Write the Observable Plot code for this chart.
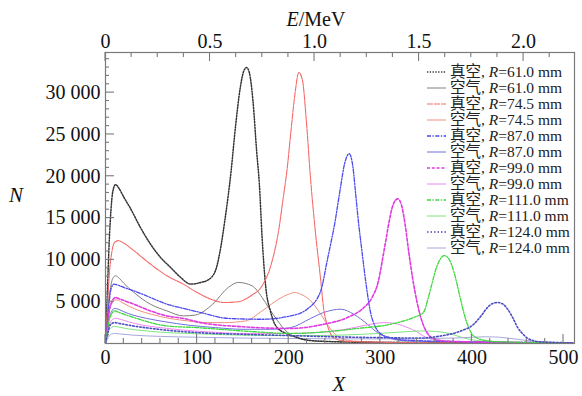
<!DOCTYPE html>
<html><head><meta charset="utf-8">
<script src="https://cdn.jsdelivr.net/npm/d3@7"></script>
<script src="https://cdn.jsdelivr.net/npm/@observablehq/plot@0.6"></script>
<style>
html,body{margin:0;padding:0;background:#fff;}
</style></head><body><div id="chart"></div>
<script>
// ---- data ----
const radii = ["61.0", "74.5", "87.0", "99.0", "111.0", "124.0"];
const media = ["真空", "空气"]; // vacuum, air

const xV61 = [0, 2, 4, 6, 8, 11, 15, 20, 27, 38, 49, 60, 71, 82, 93, 104, 112, 120, 125, 130, 137, 142, 147, 151, 154, 157, 161, 165, 168, 171, 175, 180, 186, 197, 207, 220, 240, 280, 350, 450, 510];
const nV61 = [500, 6000, 12000, 16000, 18200, 19000, 18500, 17500, 16200, 13900, 11900, 10300, 9100, 7900, 7100, 7300, 7600, 8700, 11000, 14500, 20500, 26000, 30500, 32600, 33000, 32400, 29000, 23000, 19000, 12600, 6700, 3900, 2100, 1200, 800, 400, 250, 150, 100, 80, 50];

const xA61 = [0, 2, 4, 6, 8, 11, 15, 20, 31, 49, 67, 85, 98, 117, 134, 145, 160, 171, 178, 188, 197, 207, 220, 240, 300, 400, 510];
const nA61 = [300, 3000, 5500, 7000, 7800, 8100, 7800, 7200, 6100, 4700, 3900, 3300, 3400, 4700, 6700, 7300, 6900, 5500, 4300, 2700, 1500, 800, 400, 250, 150, 100, 50];

const xV74 = [0, 2, 4, 7, 10, 14, 20, 31, 49, 67, 85, 100, 115, 130, 145, 160, 171, 182, 189, 194, 198, 203, 207, 211, 215, 219, 224, 229, 235, 238, 243, 249, 260, 280, 320, 400, 510];
const nV74 = [300, 4000, 8000, 11000, 12100, 12300, 12000, 11100, 9500, 8100, 7100, 6100, 5300, 4900, 5000, 5800, 6900, 9900, 13500, 17400, 20600, 26000, 30000, 32400, 31500, 27000, 19500, 13500, 7500, 4300, 1900, 700, 300, 200, 120, 80, 50];

const xA74 = [0, 2, 4, 7, 10, 13, 18, 25, 35, 50, 70, 90, 110, 130, 153, 171, 189, 200, 207, 213, 224, 235, 242, 249, 258, 270, 300, 400, 510];
const nA74 = [200, 2000, 3800, 4800, 5200, 5200, 4900, 4500, 4000, 3500, 3000, 2700, 2500, 2500, 2700, 3900, 5300, 5900, 6100, 5900, 5100, 3500, 2300, 1300, 600, 300, 150, 80, 50];

const xV87 = [0, 2, 4, 6, 9, 13, 20, 31, 49, 67, 85, 104, 134, 171, 202, 220, 235, 242, 246, 250, 256, 261, 266, 270, 273, 276, 280, 284, 289, 295, 300, 311, 330, 400, 510];
const nV87 = [200, 2500, 5000, 6500, 7100, 7000, 6700, 6300, 5500, 4700, 4200, 3700, 3000, 2900, 3300, 4100, 6300, 9900, 12000, 14200, 18300, 21500, 22700, 21200, 18000, 14700, 11000, 7500, 3900, 1900, 1200, 700, 400, 200, 100];

const xA87 = [0, 2, 4, 7, 10, 14, 20, 30, 45, 65, 90, 120, 150, 180, 202, 224, 238, 257, 271, 286, 297, 308, 330, 400, 510];
const nA87 = [150, 1600, 3000, 3900, 4200, 4100, 3800, 3400, 3000, 2600, 2200, 1900, 1700, 1700, 1900, 3000, 3700, 4100, 3500, 2300, 1300, 700, 300, 150, 50];

const xV99 = [0, 2, 4, 7, 11, 16, 31, 49, 67, 85, 104, 150, 202, 238, 264, 282, 291, 298, 302, 306, 310, 314, 319, 323, 327, 331, 335, 340, 346, 351, 356, 370, 420, 510];
const nV99 = [150, 2000, 3800, 5000, 5500, 5300, 4700, 3900, 3300, 3000, 2500, 2000, 1800, 2300, 3100, 4300, 5500, 7500, 9800, 12300, 14800, 16600, 17300, 16600, 14300, 11000, 8000, 5000, 2500, 1300, 700, 300, 150, 80];

const xA99 = [0, 2, 4, 7, 11, 16, 25, 40, 60, 85, 110, 150, 200, 230, 257, 280, 295, 305, 318, 330, 340, 347, 360, 380, 450, 510];
const nA99 = [100, 1200, 2200, 2800, 3000, 2900, 2600, 2200, 1900, 1600, 1400, 1200, 1200, 1300, 1600, 2100, 2400, 2500, 2350, 1900, 1400, 900, 400, 200, 100, 50];

const xV111 = [0, 2, 4, 7, 10, 15, 31, 49, 67, 100, 150, 202, 240, 275, 311, 336, 347, 352, 356, 362, 370, 375, 380, 384, 388, 395, 402, 413, 430, 510];
const nV111 = [100, 1500, 2800, 3600, 3900, 3700, 3100, 2500, 2100, 1900, 1500, 1200, 1400, 1800, 2300, 3100, 3700, 5300, 7000, 9300, 10500, 10100, 8700, 7000, 5100, 2300, 900, 400, 200, 80];

const xA111 = [0, 2, 4, 7, 10, 15, 25, 40, 60, 90, 130, 180, 230, 280, 320, 345, 360, 375, 390, 410, 450, 510];
const nA111 = [80, 900, 1600, 1950, 2050, 1950, 1750, 1550, 1350, 1200, 1050, 950, 950, 1100, 1350, 1500, 1450, 1200, 700, 300, 120, 50];

const xV124 = [0, 2, 4, 7, 10, 15, 30, 50, 75, 100, 150, 200, 250, 300, 344, 366, 388, 402, 410, 417, 423, 428, 434, 439, 445, 450, 456, 461, 475, 510];
const nV124 = [80, 1000, 1900, 2400, 2500, 2400, 2100, 1800, 1500, 1300, 1100, 950, 800, 700, 650, 900, 1500, 2300, 3300, 4300, 4800, 4900, 4700, 4100, 3000, 1900, 1100, 600, 200, 80];

const xA124 = [0, 2, 4, 7, 10, 15, 30, 60, 100, 150, 200, 300, 380, 400, 415, 430, 450, 470, 510];
const nA124 = [50, 500, 900, 1150, 1200, 1150, 1000, 850, 750, 650, 600, 550, 650, 750, 800, 750, 500, 250, 80];

// axis ticks
const xMajor = [0, 100, 200, 300, 400, 500];
const xMinor = [20, 40, 60, 80, 120, 140, 160, 180, 220, 240, 260, 280, 320, 340, 360, 380, 420, 440, 460, 480];
const yMajor = [5000, 10000, 15000, 20000, 25000, 30000];
const yLabels = ["5 000", "10 000", "15 000", "20 000", "25 000", "30 000"];
const yMinor = [1000, 2000, 3000, 4000, 6000, 7000, 8000, 9000, 11000, 12000, 13000, 14000, 16000, 17000, 18000, 19000, 21000, 22000, 23000, 24000, 26000, 27000, 28000, 29000, 31000, 32000, 33000, 34000];
const eMajor = [0, 0.5, 1.0, 1.5, 2.0];
const eLabels = ["0", "0.5", "1.0", "1.5", "2.0"];
const eMinor = [0.125, 0.25, 0.375, 0.625, 0.75, 0.875, 1.125, 1.25, 1.375, 1.625, 1.75, 1.875, 2.125];
const channelsPerMeV = 228.2; // energy calibration of top axis

// ---- series table ----
const seriesList = [
  {medium: 0, r: 0, xs: xV61, ns: nV61},
  {medium: 1, r: 0, xs: xA61, ns: nA61},
  {medium: 0, r: 1, xs: xV74, ns: nV74},
  {medium: 1, r: 1, xs: xA74, ns: nA74},
  {medium: 0, r: 2, xs: xV87, ns: nV87},
  {medium: 1, r: 2, xs: xA87, ns: nA87},
  {medium: 0, r: 3, xs: xV99, ns: nV99},
  {medium: 1, r: 3, xs: xA99, ns: nA99},
  {medium: 0, r: 4, xs: xV111, ns: nV111},
  {medium: 1, r: 4, xs: xA111, ns: nA111},
  {medium: 0, r: 5, xs: xV124, ns: nV124},
  {medium: 1, r: 5, xs: xA124, ns: nA124}
];
const styles = [
  {stroke: "#333333", dash: "1.3,1.5", width: 1.5},
  {stroke: "#808080", dash: null, width: 1},
  {stroke: "#f46a6a", dash: "6,1", width: 1.1},
  {stroke: "#f09080", dash: null, width: 1},
  {stroke: "#4a4af0", dash: "4,1.5,1.3,1.5", width: 1.3},
  {stroke: "#7070dc", dash: null, width: 1},
  {stroke: "#e03ae0", dash: "3,1.8", width: 1.6},
  {stroke: "#f286f2", dash: null, width: 1},
  {stroke: "#3cd83c", dash: "4,1.5,1.3,1.5", width: 1.3},
  {stroke: "#80e480", dash: null, width: 1},
  {stroke: "#4c4cc4", dash: "1.5,2", width: 1.6},
  {stroke: "#a8a8dc", dash: null, width: 1}
];

const lineMarks = seriesList.map((s, i) => {
  const rows = s.xs.map((x, j) => ({X: x, N: s.ns[j]}));
  const st = styles[i];
  return Plot.line(rows, {x: "X", y: "N", stroke: st.stroke, strokeWidth: st.width,
    strokeDasharray: st.dash ?? undefined, curve: "monotone-x"});
});
// air lines first, vacuum on top
const order = [1, 3, 5, 7, 9, 11, 0, 2, 4, 6, 8, 10];

const W = 582, H = 396;
const mL = 105, mR = 8, mT = 52, mB = 53;
const FONT = "Liberation Serif, Times New Roman, Noto Sans CJK SC, serif";
const axisGray = "#7a7a7a";
const eX = e => e * channelsPerMeV;
const eMajorX = eMajor.map(eX);
const majorLen = 9, minorLen = 5;

const plot = Plot.plot({
  width: W, height: H,
  marginLeft: mL, marginRight: mR, marginTop: mT, marginBottom: mB,
  x: {domain: [0, 512], label: null},
  y: {domain: [0, 34800], label: null},
  style: {fontFamily: FONT, fontSize: "20px", color: "#111", background: "#fff"},
  marks: [
    ...order.map(i => lineMarks[i]),
    Plot.frame({stroke: axisGray, strokeWidth: 1.2}),
    Plot.axisX(xMajor, {anchor: "bottom", tickSize: 0, tickPadding: 6, tickFormat: d => String(d), label: null, fontSize: 20, fontFamily: FONT}),
    Plot.axisY(yMajor, {anchor: "left", tickSize: 0, tickPadding: 5, tickFormat: d => yLabels[yMajor.indexOf(d)], label: null, fontSize: 20, fontFamily: FONT}),
    Plot.axisX(eMajorX, {anchor: "top", tickSize: 0, tickPadding: 5, tickFormat: d => eLabels[eMajorX.indexOf(d)], label: null, fontSize: 20, fontFamily: FONT})
  ]
});
document.getElementById("chart").appendChild(plot);

// ---- inward tick marks, positioned with the plot's own scales ----
const sx = plot.scale("x"), sy = plot.scale("y");
const frameTop = mT, frameBottom = H - mB, frameLeft = mL;
const svg = d3.select(plot);
const tg = svg.append("g").attr("stroke", axisGray).attr("stroke-width", 1.1).attr("fill", "none");
function xTicks(vals, len, atTop) {
  vals.forEach(v => {
    const px = sx.apply(v);
    tg.append("line").attr("x1", px).attr("x2", px)
      .attr("y1", atTop ? frameTop : frameBottom).attr("y2", atTop ? frameTop + len : frameBottom - len);
  });
}
xTicks(xMajor, majorLen, false);
xTicks(xMinor, minorLen, false);
xTicks(eMajorX, majorLen, true);
xTicks(eMinor.map(eX), minorLen, true);
[[yMajor, majorLen], [yMinor, minorLen - 1]].forEach(([vals, len]) => {
  vals.forEach(v => {
    const py = sy.apply(v);
    tg.append("line").attr("x1", frameLeft).attr("x2", frameLeft + len).attr("y1", py).attr("y2", py);
  });
});

// ---- axis titles and legend ----
const titles = svg.append("g").attr("font-family", FONT).attr("fill", "#111");
const eT = titles.append("text").attr("x", 316).attr("y", 26).attr("text-anchor", "middle").attr("font-size", 20);
eT.append("tspan").attr("font-style", "italic").text("E");
eT.append("tspan").text("/MeV");
titles.append("text").attr("x", 339).attr("y", 391).attr("text-anchor", "middle").attr("font-size", 21).attr("font-style", "italic").text("X");
titles.append("text").attr("x", 16).attr("y", 202).attr("text-anchor", "middle").attr("font-size", 21).attr("font-style", "italic").text("N");

const leg = svg.append("g").attr("font-family", FONT).attr("fill", "#222").attr("font-size", 15.5).attr("text-anchor", "start");
seriesList.forEach((s, i) => {
  const y = 72 + i * 16;
  const st = styles[i];
  leg.append("line").attr("x1", 427).attr("x2", 446).attr("y1", y).attr("y2", y)
    .attr("stroke", st.stroke).attr("stroke-width", st.width)
    .attr("stroke-dasharray", st.dash);
  const t = leg.append("text").attr("x", 450).attr("y", y + 5);
  t.append("tspan").text(media[s.medium] + ", ");
  t.append("tspan").attr("font-style", "italic").text("R");
  t.append("tspan").text("=" + radii[s.r] + " mm");
});
</script>
</body></html>
